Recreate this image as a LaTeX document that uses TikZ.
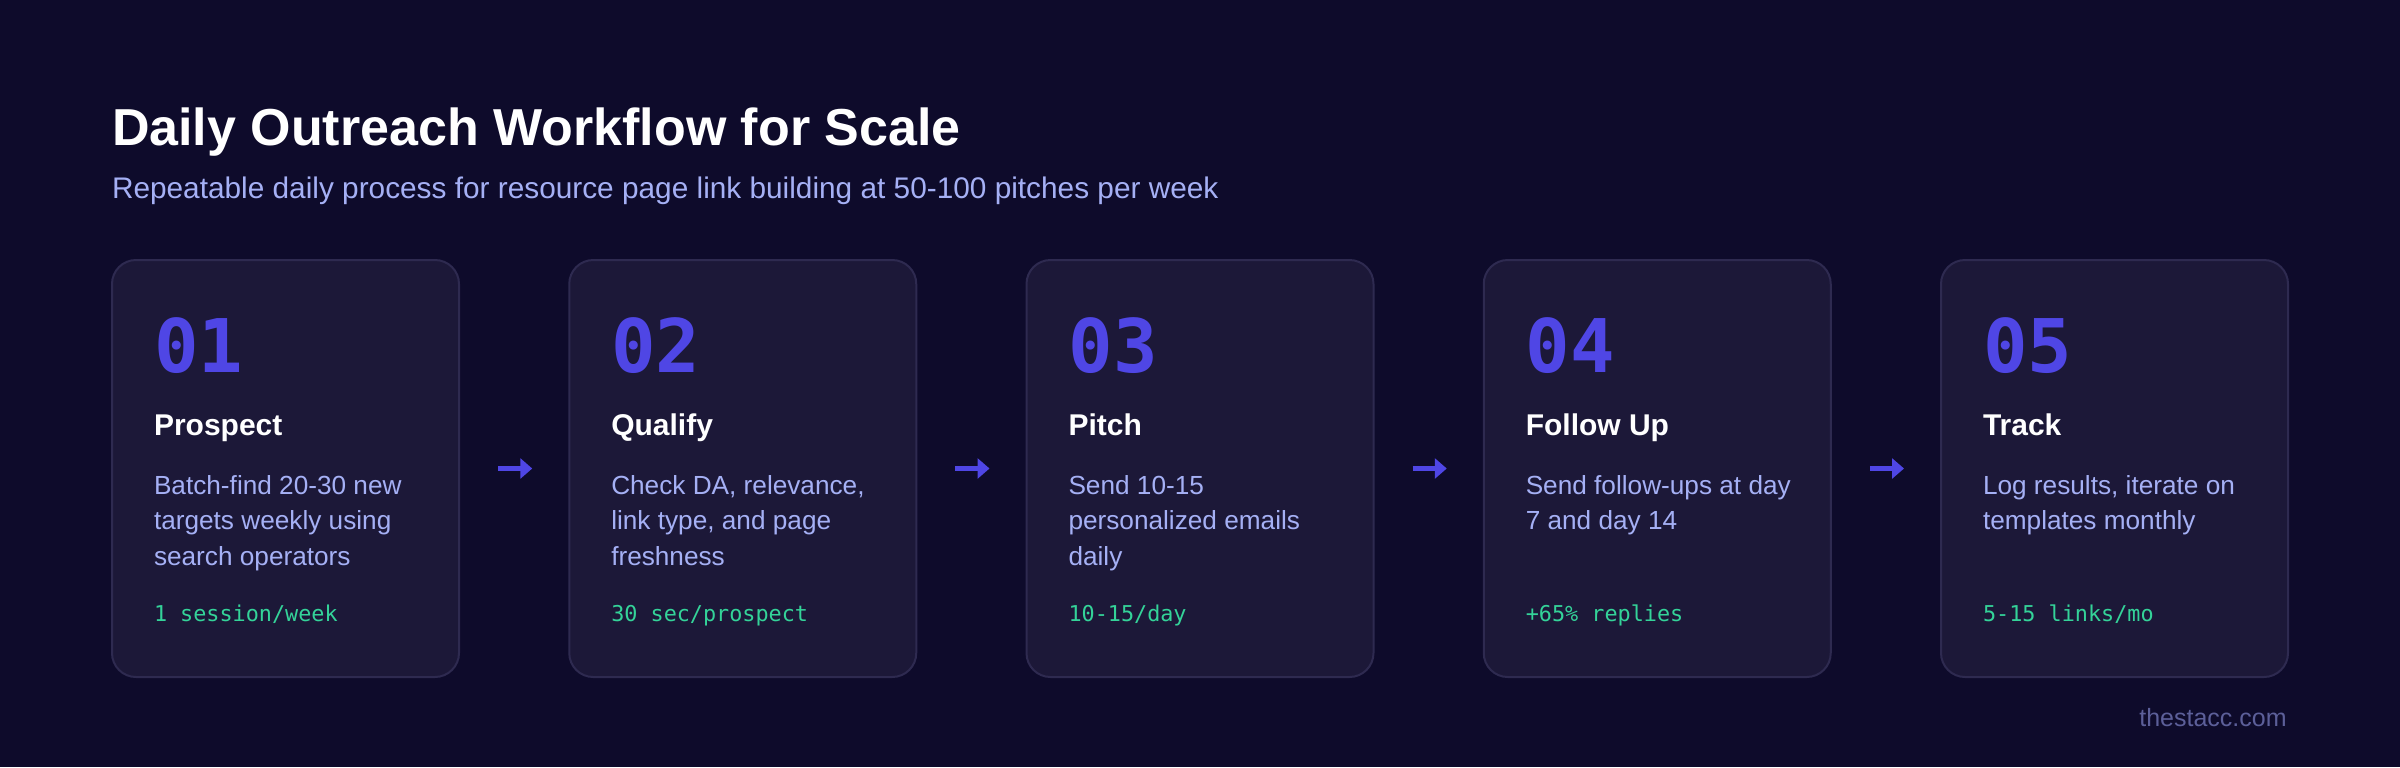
\documentclass[tikz,border=0pt]{standalone}
\usepackage{fontspec}
\setmainfont{Liberation Sans}
\newfontfamily\monofont{DejaVu Sans Mono}
\usetikzlibrary{arrows.meta}
\definecolor{bgcol}{HTML}{0E0B2B}
\definecolor{cardbg}{HTML}{1C1838}
\definecolor{cardline}{HTML}{2E2A50}
\definecolor{numcol}{HTML}{4F46E5}
\definecolor{desccol}{HTML}{A5B0F5}
\definecolor{metriccol}{HTML}{34D399}
\definecolor{footcol}{HTML}{5C5F99}
\tikzset{
  card/.style={draw=cardline, fill=cardbg, line width=1pt, rounded corners=12pt,
    minimum width=173.5pt, minimum height=208.5pt, inner sep=0pt},
  txt/.style={anchor=base west, inner sep=0pt, outer sep=0pt},
  maintitle/.style={txt, text=white, font=\bfseries\fontsize{26pt}{30pt}\selectfont},
  subtitle/.style={txt, text=desccol, font=\fontsize{14.9pt}{17pt}\selectfont},
  numtxt/.style={txt, text=numcol, font=\monofont\bfseries\fontsize{37pt}{40pt}\selectfont},
  steptitle/.style={txt, text=white, font=\bfseries\fontsize{15pt}{17pt}\selectfont},
  desc/.style={txt, text=desccol, font=\fontsize{13.1pt}{15pt}\selectfont},
  metric/.style={txt, text=metriccol, font=\monofont\fontsize{10.9pt}{13pt}\selectfont},
  footer/.style={anchor=base east, inner sep=0pt, text=footcol, font=\fontsize{12.5pt}{15pt}\selectfont},
  flow/.style={draw=numcol, line width=2.2pt, -{Triangle[length=6pt,width=10pt]},
    shorten <=19pt, shorten >=18pt}
}
\newcommand\stepcard[8]{%
  \node[card] (#1) at ({#2+173.5},468.5) {};
  \node[numtxt] (#1-num) at ({#2+42},372) {#3};
  \node[steptitle] (#1-title) at ({#2+42},435) {#4};
  \node[desc] (#1-d1) at ({#2+42},494) {#5};
  \if\relax\detokenize{#6}\relax\else\node[desc] (#1-d2) at ({#2+42},529.5) {#6};\fi
  \if\relax\detokenize{#7}\relax\else\node[desc] (#1-d3) at ({#2+42},565) {#7};\fi
  \node[metric] (#1-m) at ({#2+42},621) {#8};
}
\begin{document}
\begin{tikzpicture}[x=0.5pt, y=-0.5pt]
  \fill[bgcol] (0,0) rectangle (2400,767);
  \useasboundingbox (0,0) rectangle (2400,767);
  \node[maintitle] (title) at (112,145) {Daily Outreach Workflow for Scale};
  \node[subtitle] (sub) at (112,198) {Repeatable daily process for resource page link building at 50-100 pitches per week};
  \stepcard{c1}{112}{01}{Prospect}{Batch-find 20-30 new}{targets weekly using}{search operators}{1 session/week}
  \stepcard{c2}{569.25}{02}{Qualify}{Check DA, relevance,}{link type, and page}{freshness}{30 sec/prospect}
  \stepcard{c3}{1026.5}{03}{Pitch}{Send 10-15}{personalized emails}{daily}{10-15/day}
  \stepcard{c4}{1483.75}{04}{Follow Up}{Send follow-ups at day}{7 and day 14}{}{+65\% replies}
  \stepcard{c5}{1941}{05}{Track}{Log results, iterate on}{templates monthly}{}{5-15 links/mo}
  \draw[flow] (c1.east) -- (c2.west);
  \draw[flow] (c2.east) -- (c3.west);
  \draw[flow] (c3.east) -- (c4.west);
  \draw[flow] (c4.east) -- (c5.west);
  \node[footer] (foot) at (2287,726) {thestacc.com};
\end{tikzpicture}
\end{document}
